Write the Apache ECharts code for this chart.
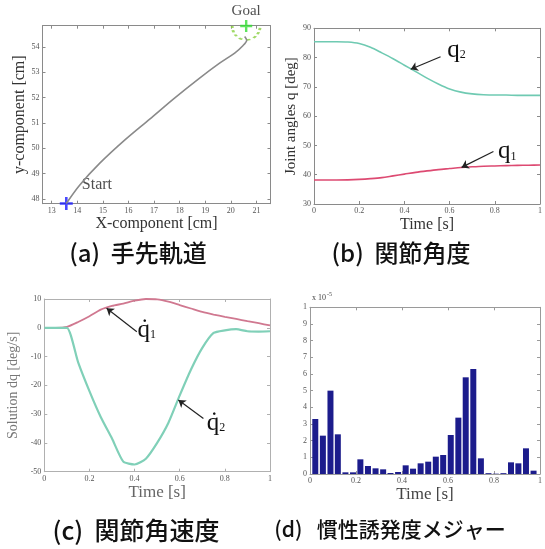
<!DOCTYPE html>
<html><head><meta charset="utf-8">
<script src="https://cdn.jsdelivr.net/npm/echarts@6/dist/echarts.min.js"></script>
<style>html,body{margin:0;padding:0;background:#fff}#c{width:545px;height:549px}</style>
</head><body><div id="c"></div>
<script>
// ---------- (a) hand trajectory ----------
const trajX = [13.57, 14.09, 14.88, 15.85, 16.83, 17.80, 18.78, 19.56, 20.15, 20.46, 20.62, 20.54];
const trajY = [47.82, 48.54, 49.41, 50.32, 51.15, 51.98, 52.77, 53.36, 53.76, 54.04, 54.27, 54.41];
const startPt = [13.57, 47.82];
const goalPt = [20.6, 54.83];
const aXTicks = [13, 14, 15, 16, 17, 18, 19, 20, 21];
const aYTicks = [48, 49, 50, 51, 52, 53, 54];
// ---------- (b) joint angles ----------
const timeB = [0,0.05,0.1,0.15,0.2,0.25,0.3,0.35,0.4,0.45,0.5,0.55,0.6,0.65,0.7,0.75,0.8,0.85,0.9,0.95,1];
const q1 = [38.2,38.2,38.2,38.25,38.4,38.65,39.0,39.6,40.2,40.8,41.3,41.75,42.1,42.45,42.7,42.9,43.0,43.1,43.2,43.25,43.3];
const q2 = [85.4,85.4,85.4,85.3,84.8,83.5,81.6,79.6,77.4,75.2,73.0,71.0,69.3,68.2,67.6,67.3,67.2,67.2,67.1,67.1,67.1];
// ---------- (c) joint angular velocity ----------
const timeC = [0,0.05,0.1,0.15,0.2,0.25,0.3,0.35,0.4,0.45,0.5,0.55,0.6,0.65,0.7,0.75,0.8,0.85,0.9,0.95,1];
const dq1 = [0,0,0.3,2,4,6.3,7.6,8.4,9.4,10,9.9,9.1,7.9,6.7,5.5,4.6,3.8,3.1,2.3,1.6,0.8];
const dq2 = [0,0,0,-12,-22,-31,-38.5,-46.5,-47.5,-45.5,-40,-33,-23.5,-14.5,-7,-1.8,-0.9,-0.5,-1.2,-1.3,-1.2];
// ---------- (d) inertia-induced measure (x 1e-5) ----------
const timeD = [0.023,0.056,0.089,0.121,0.154,0.187,0.219,0.252,0.285,0.318,0.350,0.383,0.416,0.448,0.481,0.514,0.547,0.579,0.612,0.645,0.677,0.710,0.743,0.776,0.808,0.841,0.874,0.906,0.939,0.972];
const measD = [0.33,0.23,0.50,0.238,0.01,0.01,0.088,0.048,0.034,0.028,0.006,0.012,0.052,0.032,0.064,0.074,0.104,0.114,0.234,0.338,0.58,0.63,0.094,0.005,0.002,0.005,0.07,0.064,0.154,0.02];
const timeTicks = [0, 0.2, 0.4, 0.6, 0.8, 1];

const captions = ['(a)  手先軌道', '(b)  関節角度', '(c)  関節角速度', '(d)   慣性誘発度メジャー'];

const SERIF = '"Liberation Serif", "DejaVu Serif", serif';
const chart = echarts.init(document.getElementById('c'));

const grids = [
  {left: 42.5, top: 25.7, width: 228, height: 178},
  {left: 314, top: 28.3, width: 228, height: 175.7},
  {left: 44.3, top: 299, width: 225.7, height: 172.7},
  {left: 310, top: 307.3, width: 231.7, height: 166.7}
];
const boxColor = ['#8a8a8a', '#8a8a8a', '#b0b0b0', '#9a9a9a'];

function axis(dim, gi, pos, min, max, ticks, showLabel, fmt, name, nameGap, nameSize, nameColor) {
  const a = {
    type: 'value', gridIndex: gi, position: pos, min: min, max: max,
    axisLine: {show: true, onZero: false, lineStyle: {color: boxColor[gi], width: 1}},
    axisTick: {show: true, inside: true, length: 3, customValues: ticks, lineStyle: {color: boxColor[gi]}},
    axisLabel: {show: showLabel, customValues: ticks, fontFamily: SERIF, fontSize: 8, color: '#555', margin: 3, formatter: fmt},
    splitLine: {show: false}
  };
  if (name) {
    a.name = name; a.nameLocation = 'middle'; a.nameGap = nameGap;
    a.nameTextStyle = {fontFamily: SERIF, fontSize: nameSize, color: nameColor};
  }
  return a;
}
const dfmt = v => String(+v.toFixed(2));
const xAxes = [
  axis('x', 0, 'bottom', 12.64, 21.55, aXTicks, true, dfmt, 'X-component [cm]', 12, 16, '#333'),
  axis('x', 0, 'top', 12.64, 21.55, aXTicks, false),
  axis('x', 1, 'bottom', 0, 1, timeTicks, true, dfmt, 'Time [s]', 13, 16, '#333'),
  axis('x', 1, 'top', 0, 1, timeTicks, false),
  axis('x', 2, 'bottom', 0, 1, timeTicks, true, dfmt, 'Time [s]', 12, 17, '#666'),
  axis('x', 2, 'top', 0, 1, timeTicks, false),
  axis('x', 3, 'bottom', 0, 1, timeTicks, true, dfmt, 'Time [s]', 6, 17, '#444'),
  axis('x', 3, 'top', 0, 1, timeTicks, false)
];
const yAxes = [
  axis('y', 0, 'left', 47.81, 54.84, aYTicks, true, dfmt, 'y-component [cm]', 14, 16, '#333'),
  axis('y', 0, 'right', 47.81, 54.84, aYTicks, false),
  axis('y', 1, 'left', 30, 90, [30,40,50,60,70,80,90], true, dfmt, 'Joint angles q [deg]', 15, 15, '#333'),
  axis('y', 1, 'right', 30, 90, [30,40,50,60,70,80,90], false),
  axis('y', 2, 'left', -50, 10, [-50,-40,-30,-20,-10,0,10], true, dfmt, 'Solution dq [deg/s]', 24, 14, '#777'),
  axis('y', 2, 'right', -50, 10, [-50,-40,-30,-20,-10,0,10], false),
  axis('y', 3, 'left', 0, 1, [0,0.1,0.2,0.3,0.4,0.5,0.6,0.7,0.8,0.9,1], true,
       v => (v > 0.99 ? '1' : String(Math.round(v * 10)))),
  axis('y', 3, 'right', 0, 1, [0,0.1,0.2,0.3,0.4,0.5,0.6,0.7,0.8,0.9,1], false)
];

const arrowML = (pairs) => ({
  silent: true, symbol: ['none', 'arrow'], symbolSize: 7, animation: false,
  label: {show: false},
  lineStyle: {color: '#222', width: 1.2, type: 'solid'},
  emphasis: {disabled: true},
  data: pairs.map(p => [{coord: p[0]}, {coord: p[1]}])
});
const labelMP = (items) => ({
  silent: true, symbol: 'circle', symbolSize: 1, itemStyle: {color: 'rgba(0,0,0,0)'}, animation: false,
  label: {show: true, position: 'inside', color: '#111',
    rich: {q: {fontFamily: SERIF, fontSize: 25, color: '#111'},
           s: {fontFamily: SERIF, fontSize: 12, color: '#111', padding: [10, 0, 0, 0]}}},
  data: items.map(it => ({coord: it[0], label: {formatter: it[1]}}))
});

const series = [
  // (a)
  {type: 'line', xAxisIndex: 0, yAxisIndex: 0, data: trajX.map((x, i) => [x, trajY[i]]),
   smooth: 0.3, showSymbol: false, lineStyle: {color: '#8a8a8a', width: 1.6}},
  {type: 'scatter', xAxisIndex: 0, yAxisIndex: 0, data: [goalPt], clip: false,
   symbol: 'path://M0 0 A1 1 0 0 0 2 0', symbolSize: [28, 14], symbolOffset: [0, 7],
   itemStyle: {color: 'rgba(0,0,0,0)', borderColor: '#88d040', borderWidth: 2, borderType: [3, 3]}},
  {type: 'scatter', xAxisIndex: 0, yAxisIndex: 0, data: [startPt], clip: false,
   symbol: 'path://M4 0H6V4H10V6H6V10H4V6H0V4H4Z', symbolSize: 13, itemStyle: {color: '#1a1aff'},
   label: {show: true, formatter: 'Start', position: [22, -20], fontFamily: SERIF, fontSize: 16, color: '#222'}},
  {type: 'scatter', xAxisIndex: 0, yAxisIndex: 0, data: [goalPt], clip: false,
   symbol: 'path://M4 0H6V4H10V6H6V10H4V6H0V4H4Z', symbolSize: 12, itemStyle: {color: '#33dd33'},
   label: {show: true, formatter: 'Goal', position: 'top', distance: 1, fontFamily: SERIF, fontSize: 15, color: '#222'}},
  // (b)
  {type: 'line', xAxisIndex: 2, yAxisIndex: 2, data: timeB.map((t, i) => [t, q2[i]]),
   smooth: 0.3, showSymbol: false, lineStyle: {color: '#6fcab2', width: 1.6},
   markLine: arrowML([[[0.56, 80.3], [0.428, 76.0]]]),
   markPoint: labelMP([[[0.63, 82.6], '{q|q}{s|2}']])},
  {type: 'line', xAxisIndex: 2, yAxisIndex: 2, data: timeB.map((t, i) => [t, q1[i]]),
   smooth: 0.3, showSymbol: false, lineStyle: {color: '#dd4a72', width: 1.6},
   markLine: arrowML([[[0.794, 47.9], [0.653, 42.5]]]),
   markPoint: labelMP([[[0.855, 47.9], '{q|q}{s|1}']])},
  // (c)
  {type: 'line', xAxisIndex: 4, yAxisIndex: 4, data: timeC.map((t, i) => [t, dq1[i]]),
   smooth: 0.2, showSymbol: false, lineStyle: {color: '#d07890', width: 1.8},
   markLine: arrowML([[[0.41, -1.4], [0.276, 6.8]]]),
   markPoint: labelMP([[[0.454, -0.8], '{q|q\u0307}{s|1}']])},
  {type: 'line', xAxisIndex: 4, yAxisIndex: 4, data: timeC.map((t, i) => [t, dq2[i]]),
   smooth: 0.2, showSymbol: false, lineStyle: {color: '#80d0b8', width: 2.2},
   markLine: arrowML([[[0.705, -31.5], [0.594, -25.1]]]),
   markPoint: labelMP([[[0.761, -33.1], '{q|q\u0307}{s|2}']])},
  // (d)
  {type: 'bar', xAxisIndex: 6, yAxisIndex: 6, data: timeD.map((t, i) => [t, measD[i]]),
   barWidth: 6, itemStyle: {color: '#1c1c8c'}}
];

const capFont = '"Noto Sans CJK JP", "Noto Sans", sans-serif';
chart.setOption({
  animation: false,
  backgroundColor: '#fff',
  grid: grids.map(g => Object.assign({containLabel: false}, g)),
  xAxis: xAxes,
  yAxis: yAxes,
  series: series,
  graphic: [
    {type: 'text', x: 138, y: 253, style: {text: captions[0], align: 'center', verticalAlign: 'middle',
      font: '500 24px ' + capFont, fill: '#111'}},
    {type: 'text', x: 401, y: 253, style: {text: captions[1], align: 'center', verticalAlign: 'middle',
      font: '500 24px ' + capFont, fill: '#111'}},
    {type: 'text', x: 136, y: 530, style: {text: captions[2], align: 'center', verticalAlign: 'middle',
      font: '500 25px ' + capFont, fill: '#111'}},
    {type: 'text', x: 390, y: 529, style: {text: captions[3], align: 'center', verticalAlign: 'middle',
      font: '500 21px ' + capFont, fill: '#111'}},
    {type: 'text', x: 312, y: 298, style: {text: 'x 10', align: 'left', verticalAlign: 'middle',
      font: '8px "Liberation Serif", serif', fill: '#444'}},
    {type: 'text', x: 327, y: 294, style: {text: '-5', align: 'left', verticalAlign: 'middle',
      font: '6px "Liberation Serif", serif', fill: '#444'}}
  ]
});
</script></body></html>
